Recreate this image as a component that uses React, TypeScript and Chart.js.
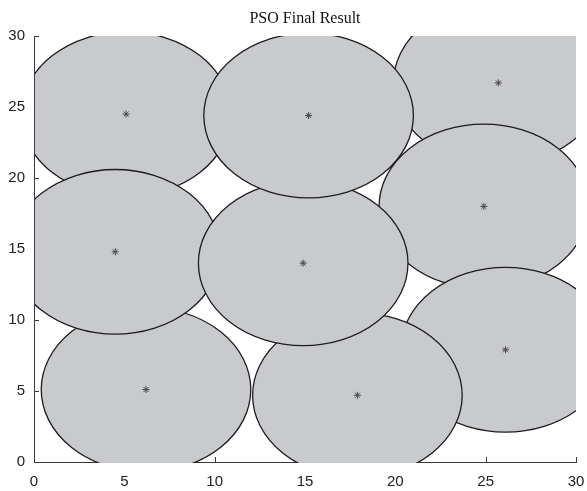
import React, { useEffect, useRef } from 'react';
import { Chart, registerables } from 'chart.js';

Chart.register(...registerables);

// Sensor centers, listed in drawing order (later circles cover earlier ones)
const centerX = [5.1, 25.7, 6.2, 4.5, 24.9, 26.1, 17.9, 14.9, 15.2];
const centerY = [24.5, 26.7, 5.1, 14.8, 18.0, 7.9, 4.7, 14.0, 24.4];
const coverRadius = [5.8, 5.8, 5.8, 5.8, 5.8, 5.8, 5.8, 5.8, 5.8];
const axisTicks = [0, 5, 10, 15, 20, 25, 30];
const titleText = 'PSO Final Result';

const FILL = '#c9cacd';
const EDGE = '#1c1c1c';
const AXIS = '#3a3a3a';

const coveragePlugin = {
  id: 'coverage',
  beforeDatasetsDraw(chart: any) {
    const { ctx, chartArea, scales } = chart;
    const xs = scales.x;
    const ys = scales.y;
    ctx.save();
    // inward tick marks (under the circles)
    ctx.strokeStyle = AXIS;
    ctx.lineWidth = 1;
    ctx.beginPath();
    axisTicks.forEach((t) => {
      const px = Math.round(xs.getPixelForValue(t)) + 0.5;
      ctx.moveTo(px, chartArea.bottom);
      ctx.lineTo(px, chartArea.bottom - 5);
      const py = Math.round(ys.getPixelForValue(t)) + 0.5;
      ctx.moveTo(chartArea.left, py);
      ctx.lineTo(chartArea.left + 5, py);
    });
    ctx.stroke();

    ctx.beginPath();
    ctx.rect(chartArea.left + 1, chartArea.top, chartArea.right - chartArea.left - 1, chartArea.bottom - chartArea.top + 1);
    ctx.clip();
    for (let i = 0; i < centerX.length; i++) {
      const px = xs.getPixelForValue(centerX[i]);
      const py = ys.getPixelForValue(centerY[i]);
      const rx = Math.abs(xs.getPixelForValue(centerX[i] + coverRadius[i]) - px);
      const ry = Math.abs(ys.getPixelForValue(centerY[i] + coverRadius[i]) - py);
      ctx.beginPath();
      ctx.ellipse(px, py, rx, ry, 0, 0, Math.PI * 2);
      ctx.fillStyle = FILL;
      ctx.fill();
      ctx.lineWidth = 1.3;
      ctx.strokeStyle = EDGE;
      ctx.stroke();
    }
    ctx.restore();
  },
};

export default function App() {
  const canvasRef = useRef<HTMLCanvasElement | null>(null);

  useEffect(() => {
    document.body.style.margin = '0';
    const canvas = canvasRef.current;
    if (!canvas) return;
    const tickFont = { family: "'Liberation Sans', Arial, sans-serif", size: 15 };
    const chart = new Chart(canvas, {
      type: 'scatter',
      data: {
        datasets: [
          {
            label: 'centers',
            data: centerX.map((x, i) => ({ x, y: centerY[i] })),
            pointStyle: 'star',
            radius: 3.5,
            borderColor: '#4a4a4a',
            backgroundColor: '#4a4a4a',
            borderWidth: 1,
          },
        ],
      },
      options: {
        animation: false,
        responsive: false,
        events: [],
        layout: { padding: { left: 0, right: 0, top: 0, bottom: 0 } },
        plugins: {
          legend: { display: false },
          tooltip: { enabled: false },
          title: {
            display: true,
            text: titleText,
            fullSize: false,
            color: '#111',
            font: { family: "'Liberation Serif', 'Times New Roman', serif", size: 16, weight: 'normal' },
            padding: { top: 9, bottom: 7.8 },
          },
        },
        scales: {
          x: {
            type: 'linear',
            min: 0,
            max: 30,
            grid: { display: false, drawTicks: false },
            border: { display: true, color: AXIS, width: 1 },
            ticks: { stepSize: 5, color: '#222', font: tickFont, padding: 11, maxRotation: 0 },
            afterFit: (s: any) => {
              s.height = 29;
              s.paddingRight = 11;
              s.paddingLeft = 0;
            },
          },
          y: {
            type: 'linear',
            min: 0,
            max: 30,
            grid: { display: false, drawTicks: false },
            border: { display: true, color: AXIS, width: 1 },
            ticks: { stepSize: 5, color: '#222', font: tickFont, padding: 9 },
            afterFit: (s: any) => {
              s.width = 34;
              s.paddingTop = 0;
              s.paddingBottom = 0;
            },
          },
        },
      },
      plugins: [coveragePlugin],
    });
    return () => chart.destroy();
  }, []);

  return (
    <div style={{ width: 587, height: 491, background: '#fff' }}>
      <canvas ref={canvasRef} width={587} height={491} style={{ display: 'block' }} />
    </div>
  );
}
